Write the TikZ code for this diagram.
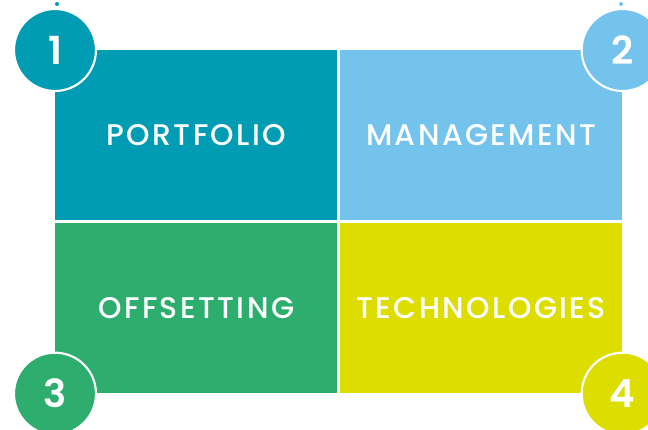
\documentclass[tikz,border=0pt]{standalone}
\usepackage{fontspec}
\setmainfont{Poppins}
\newfontfamily\widefont[LetterSpace=8]{Poppins Medium}
\newfontfamily\numfont{Poppins SemiBold}
\usepackage{tikz}
\usetikzlibrary{positioning,calc}
\definecolor{teal1}{RGB}{0,156,180}
\definecolor{blue2}{RGB}{115,195,237}
\definecolor{green3}{RGB}{46,174,110}
\definecolor{yellow4}{RGB}{221,221,0}
\tikzset{
  field/.style={minimum width=5.64cm,minimum height=3.4cm,inner sep=0pt,text=white,font=\widefont\fontsize{17}{17}\selectfont},
  badge/.style={circle,draw=white,line width=1.2pt,minimum size=1.64cm,inner sep=0pt,text=white,font=\numfont\fontsize{22}{22}\selectfont},
  pin/.style={circle,inner sep=0pt,minimum size=0.08cm}
}
\begin{document}
\begin{tikzpicture}[x=0.02cm,y=-0.02cm]
\useasboundingbox (0,0) rectangle (648,429);
\node[field,fill=teal1,anchor=north west] (P) at (55,50) {PORTFOLIO};
\node[field,fill=blue2,anchor=north west] (M) at (340,50) {MANAGEMENT};
\node[field,fill=green3,anchor=north west] (O) at (55,223) {OFFSETTING};
\node[field,fill=yellow4,anchor=north west] (T) at (340,223) {TECHNOLOGIES};
\node[badge,fill=teal1] (n1) at (P.north west) {1};
\node[badge,fill=blue2] (n2) at (M.north east) {2};
\node[badge,fill=green3] (n3) at (O.south west) {3};
\node[badge,fill=yellow4] (n4) at (T.south east) {4};
\node[pin,fill=teal1] (d1) at (57,4) {};
\node[pin,fill=blue2] (d2) at (621,4) {};
\end{tikzpicture}
\end{document}
